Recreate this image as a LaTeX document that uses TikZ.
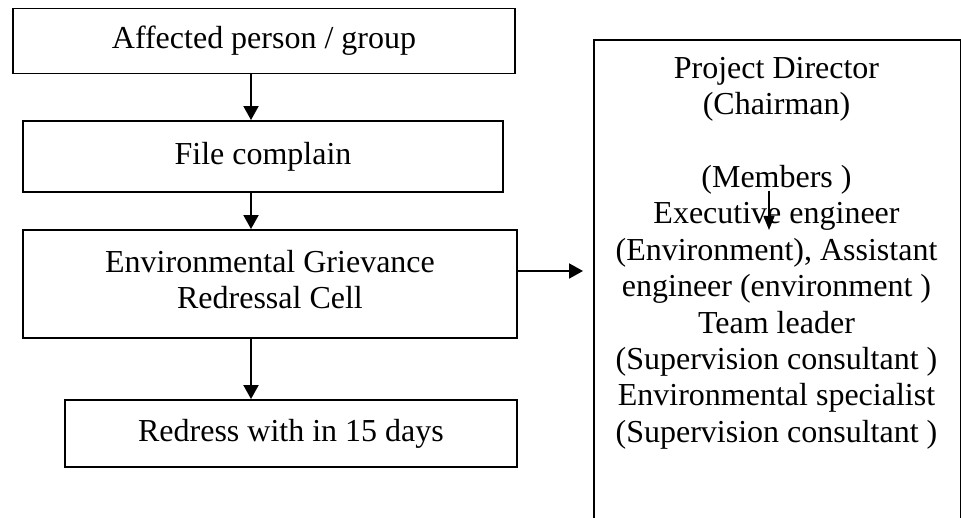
\documentclass[tikz,border=0pt]{standalone}
\usepackage{fontspec}
\setmainfont{Liberation Serif}
\usetikzlibrary{arrows.meta}
\begin{document}
\begin{tikzpicture}[x=1pt,y=-1pt,
  box/.style={draw,line width=1.9pt,rectangle,inner sep=0pt,align=center,
    font=\fontsize{32}{36}\selectfont},
  arr/.style={line width=1.9pt,-{Triangle[length=14pt,width=15pt]}},
  smallarr/.style={line width=1.4pt,-{Triangle[length=14pt,width=11pt]}}]
\path[use as bounding box,clip] (0,0) rectangle (961,518);
% left column boxes
\node[box,minimum width=502pt,minimum height=65pt] (b1) at (264,41) {Affected person / group};
\node[box,minimum width=480pt,minimum height=71pt] (b2) at (263,156.5) {File complain};
\node[box,minimum width=494pt,minimum height=108pt] (b3) at (270,284) {Environmental Grievance\\Redressal Cell\\[-26pt]};
\node[box,minimum width=452pt,minimum height=67pt] (b4) at (291,433.5) {Redress with in 15 days};
% right box (bottom runs off the page)
\node[box,minimum width=367pt,minimum height=520pt,anchor=north west] (rb) at (593,39) {};
\node[align=center,anchor=north,inner sep=0pt,font=\fontsize{32}{36.4}\selectfont] (rt) at (776.5,57)
 {Project Director\\(Chairman)\\[36.4pt](Members )\\Executive engineer\\(Environment), Assistant\\engineer (environment )\\Team leader\\(Supervision consultant )\\Environmental specialist\\(Supervision consultant )};
% connectors
\coordinate (ax) at (251,0);
\draw[arr] (b1.south -| ax) -- (b2.north -| ax);
\draw[arr] (b2.south -| ax) -- (b3.north -| ax);
\draw[arr] (b3.south -| ax) -- (b4.north -| ax);
\coordinate (tip) at (583,271);
\draw[arr] (b3.east |- tip) -- (tip);
\coordinate (m1) at (769,191);
\coordinate (m2) at (769,230);
\draw[smallarr] (m1) -- (m2);
\end{tikzpicture}
\end{document}
